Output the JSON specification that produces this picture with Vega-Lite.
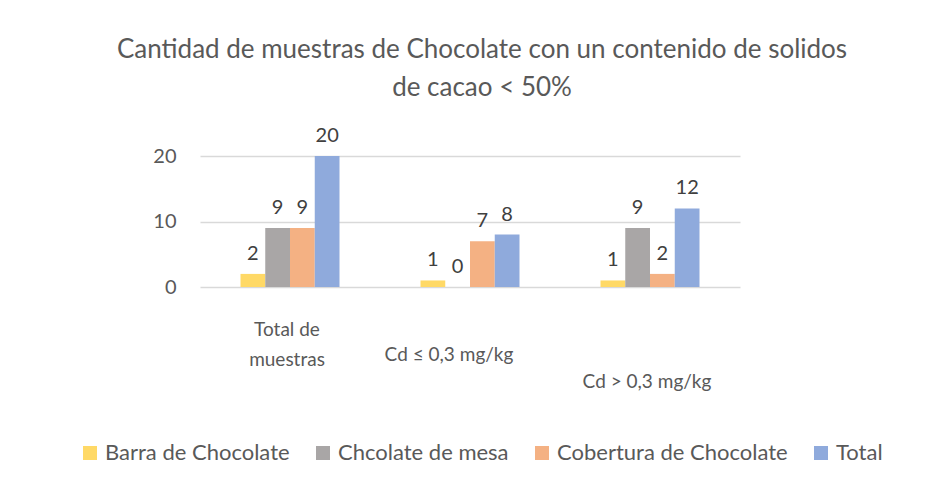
{
  "$schema": "https://vega.github.io/schema/vega-lite/v6.json",
  "width": 540,
  "height": 131,
  "autosize": "none",
  "padding": {"left": 200, "top": 156, "right": 205, "bottom": 198},
  "background": "white",
  "config": {"view": {"stroke": null}, "font": "Lato"},
  "title": {
    "text": ["Cantidad de muestras de Chocolate con un contenido de solidos", "de cacao < 50%"],
    "fontSize": 26,
    "font": "Lato",
    "fontWeight": "normal",
    "color": "#595959",
    "lineHeight": 38,
    "anchor": "middle",
    "dx": 12,
    "offset": 25
  },
  "data": {
    "values": [
      {"cat": "Total de muestras", "serie": "Barra de Chocolate", "n": 2},
      {"cat": "Total de muestras", "serie": "Chcolate de mesa", "n": 9},
      {"cat": "Total de muestras", "serie": "Cobertura de Chocolate", "n": 9},
      {"cat": "Total de muestras", "serie": "Total", "n": 20},
      {"cat": "Cd ≤ 0,3 mg/kg", "serie": "Barra de Chocolate", "n": 1},
      {"cat": "Cd ≤ 0,3 mg/kg", "serie": "Chcolate de mesa", "n": 0},
      {"cat": "Cd ≤ 0,3 mg/kg", "serie": "Cobertura de Chocolate", "n": 7},
      {"cat": "Cd ≤ 0,3 mg/kg", "serie": "Total", "n": 8},
      {"cat": "Cd > 0,3 mg/kg", "serie": "Barra de Chocolate", "n": 1},
      {"cat": "Cd > 0,3 mg/kg", "serie": "Chcolate de mesa", "n": 9},
      {"cat": "Cd > 0,3 mg/kg", "serie": "Cobertura de Chocolate", "n": 2},
      {"cat": "Cd > 0,3 mg/kg", "serie": "Total", "n": 12}
    ]
  },
  "encoding": {
    "x": {
      "field": "cat",
      "type": "nominal",
      "sort": ["Total de muestras", "Cd ≤ 0,3 mg/kg", "Cd > 0,3 mg/kg"],
      "scale": {"paddingInner": 0.45, "paddingOuter": 0.225},
      "axis": {
        "title": null,
        "domain": false,
        "ticks": false,
        "labelAngle": 0,
        "labelFontSize": 19,
        "labelColor": "#595959",
        "labelLineHeight": 30,
        "labelBaseline": "top",
        "labelExpr": "datum.value == 'Total de muestras' ? ['Total de', 'muestras'] : datum.value",
        "labelPadding": {"condition": [{"test": "datum.value == 'Cd ≤ 0,3 mg/kg'", "value": 58}, {"test": "datum.value == 'Cd > 0,3 mg/kg'", "value": 85}], "value": 33},
        "labelOffset": {"condition": [{"test": "datum.value == 'Cd ≤ 0,3 mg/kg'", "value": -21}], "value": -3}
      }
    },
    "xOffset": {"field": "serie", "sort": ["Barra de Chocolate", "Chcolate de mesa", "Cobertura de Chocolate", "Total"]},
    "y": {
      "field": "n",
      "type": "quantitative",
      "scale": {"domain": [0, 20]},
      "axis": {
        "title": null,
        "domain": false,
        "ticks": false,
        "values": [0, 10, 20],
        "labelFontSize": 20,
        "labelColor": "#595959",
        "labelPadding": 24,
        "gridColor": "#d9d9d9",
        "gridWidth": 1.5
      }
    },
    "color": {
      "field": "serie",
      "type": "nominal",
      "scale": {
        "domain": ["Barra de Chocolate", "Chcolate de mesa", "Cobertura de Chocolate", "Total"],
        "range": ["#FFD966", "#A9A6A6", "#F4B183", "#8FAADC"]
      },
      "legend": {
        "title": null,
        "orient": "none",
        "legendX": -121,
        "legendY": 286,
        "direction": "horizontal",
        "symbolType": "square",
        "symbolSize": 196,
        "symbolStrokeWidth": 0,
        "symbolOpacity": 1,
        "labelFontSize": 22,
        "labelLimit": 0,
        "labelColor": "#595959",
        "labelOffset": 4,
        "columnPadding": 22
      }
    }
  },
  "layer": [
    {"mark": {"type": "bar"}},
    {
      "mark": {"type": "text", "baseline": "bottom", "dy": -10, "fontSize": 20, "color": "#404040"},
      "encoding": {"text": {"field": "n", "type": "quantitative"}, "color": {"value": "#404040"}}
    }
  ]
}
